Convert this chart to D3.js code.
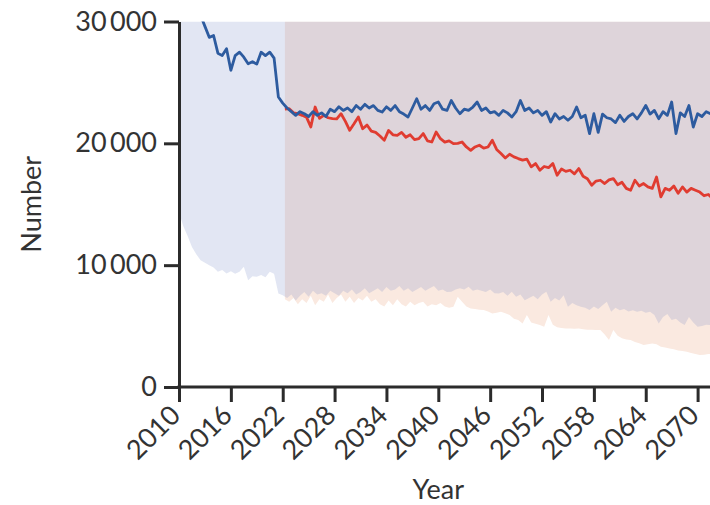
<!DOCTYPE html>
<html>
<head>
<meta charset="utf-8">
<script src="https://cdn.jsdelivr.net/npm/d3@7"></script>
<style>
  html, body { margin: 0; padding: 0; background: #fff; }
  svg { display: block; font-family: Lato, 'Open Sans', sans-serif; }
</style>
</head>
<body>
<div id="chart"></div>
<script>
// half-year steps
const step = 0.5
const blueStart = 2010
const projStart = 2022.25

const xTicks = [2010, 2016, 2022, 2028, 2034, 2040, 2046, 2052, 2058, 2064, 2070]
const yTicks = [0, 10000, 20000, 30000]

// blue line, 2010 -> 2071.5
const blueLine = [
  33500, 33000, 32500, 31800, 31200, 30500, 29600, 28700, 28850, 27400,
  27200, 27760, 26000, 27200, 27480, 27070, 26530, 26700, 26500, 27480,
  27200, 27480, 27000, 23800, 23300, 22900, 22600, 22300, 22600, 22430,
  22200, 22600, 22300, 22500, 22200, 22800, 22600, 23000, 22700, 22900,
  22600, 23110, 22800, 23200, 22900, 23100, 22700, 22570, 23000, 22700,
  23100, 22600, 22400, 22160, 22900, 23660, 22800, 23100, 22700, 23250,
  23390, 22800, 22700, 23520, 22900, 22430, 22800, 22700, 22980, 23390,
  22700, 22900, 22500, 22600, 22300, 22700, 22500, 22160, 22600, 23520,
  22700, 22900, 22500, 22700, 22300, 22600, 21750, 22430, 22000, 22200,
  21890, 22200, 22980, 22100, 22300, 20800, 22430, 20900, 22400, 22100,
  22000, 21700, 22300, 21800, 22200, 22430, 22000, 22500, 23110, 22400,
  22700, 22020, 22600, 22300, 23390, 20800, 22500, 22200, 23110, 21340,
  22430, 22200, 22600, 22430
]

// lower edge of blue band, 2010 -> 2071.5
const blueLower = [
  14340, 13200, 12400, 11500, 10900, 10400, 10200, 10000, 9800, 9450,
  9600, 9320, 9500, 9300, 9450, 9860, 8770, 9100, 9040, 9200,
  9000, 9450, 9300, 7680, 7540, 7300, 7600, 7100, 7500, 7800,
  7400, 7900, 7600, 7700, 7500, 7900, 7700, 7500, 7900, 7700,
  8000, 7600, 7800, 8100, 7700, 7900, 8100, 7800, 8200, 7900,
  8000, 8300, 7900, 8100, 7800, 8000, 8200, 7900, 8100, 8300,
  7900, 8000, 7800, 7810, 8000, 8100, 8000, 8220, 7900, 8000,
  7900, 7800, 8000, 7700, 7680, 7800, 7500, 7810, 7400, 7600,
  7130, 7300, 7500, 7200, 7600, 7810, 6990, 7300, 7100, 7540,
  6580, 6900, 6700, 6580, 6500, 6310, 6600, 6400, 6700, 6990,
  6170, 6500, 6300, 6400, 6200, 6300, 6170, 6250, 6100, 6170,
  5900, 5220, 5740, 6000, 5500, 5600, 5300, 5080, 5740, 5300,
  4940, 5000, 5100, 5080
]

// red line, 2022.25 -> 2071.75
const redLine = [
  22800, 22840, 22500, 22430, 22300, 22150, 21340, 22980, 22050, 22300,
  22100, 22020, 22000, 22430, 21800, 21070, 21600, 22160, 21200, 21500,
  21000, 20900, 20600, 20250, 21060, 20700, 20660, 20900, 20500, 20700,
  20300, 20380, 20800, 20200, 20110, 20930, 20380, 20100, 20200, 19970,
  20000, 20110, 19700, 19430, 19700, 19840, 19600, 19700, 20250, 19500,
  19160, 18800, 19100, 18890, 18750, 18620, 18700, 18070, 18340, 17790,
  18100, 18000, 18340, 17380, 17900, 17700, 17790, 17500, 17930, 17300,
  17100, 16560, 16900, 16970, 16700, 17000, 17110, 16600, 16800, 16300,
  16150, 16970, 16500, 16700, 16420, 16300, 17240, 15600, 16300, 16150,
  16500, 15900, 16420, 16000, 16300, 16150, 16000, 15700, 15800, 15460
]

// lower edge of orange band, 2022.25 -> 2071.75
const orangeLower = [
  7200, 7000, 7300, 6800, 7200, 6900, 7500, 6700, 7200, 7000,
  7600, 6900, 7300, 7600, 7000, 7400, 6900, 7300, 7100, 7500,
  7000, 7200, 6800, 6600, 7100, 6700, 7200, 6800, 6600, 7000,
  6700, 6900, 7000, 6600, 6800, 6700, 6900, 6600, 6500, 6580,
  7400, 6990, 6600, 6440, 6400, 6350, 6310, 6200, 6040, 6100,
  6170, 6050, 5900, 5600, 5500, 5220, 5900, 5300, 5200, 5080,
  4940, 5900, 5100, 4900, 4850, 4810, 4800, 4780, 4800, 4750,
  4700, 4690, 4680, 4670, 4300, 3850, 4670, 4200, 4000, 3900,
  3850, 3700, 3600, 3440, 3500, 3580, 3500, 3300, 3250, 3170,
  3100, 3000, 2950, 2890, 2800, 2700, 2620, 2650, 2700, 2750
]

const width = 710
const height = 505
const margin = { top: 21.5, left: 179, bottom: 118 }
const plotRight = 697.6 // where 2070 sits, the plot runs on to the edge
const fontSize = 27

const x = d3.scaleLinear().domain([2010, 2070]).range([margin.left, plotRight])
const y = d3.scaleLinear().domain([0, 30000]).range([height - margin.bottom, margin.top])

const fmt = d3.formatLocale({ decimal: '.', thousands: '\u2009', grouping: [3], currency: ['', ''] }).format(',d')

const toPoints = (arr, start) => arr.map((v, i) => ({ year: start + i * step, v }))

const blueLinePts = toPoints(blueLine, blueStart)
const blueBandPts = toPoints(blueLower, blueStart)
const redLinePts = toPoints(redLine, projStart)
const orangeBandPts = toPoints(orangeLower, projStart)

const svg = d3.select('#chart').append('svg')
  .attr('width', width)
  .attr('height', height)

svg.append('clipPath').attr('id', 'plot-clip')
  .append('rect')
  .attr('x', margin.left)
  .attr('y', margin.top)
  .attr('width', width - margin.left)
  .attr('height', y(0) - margin.top)

const plot = svg.append('g').attr('clip-path', 'url(#plot-clip)')

const band = d3.area()
  .x(d => x(d.year))
  .y0(y(30000))
  .y1(d => y(d.v))

plot.append('path')
  .datum(orangeBandPts)
  .attr('fill', '#fae9e0')
  .attr('d', band)

plot.append('path')
  .datum(blueBandPts)
  .attr('fill', 'rgb(110,130,195)')
  .attr('fill-opacity', 0.2)
  .attr('d', band)

const line = d3.line().x(d => x(d.year)).y(d => y(d.v))

plot.append('path')
  .datum(redLinePts)
  .attr('fill', 'none')
  .attr('stroke', '#e03c31')
  .attr('stroke-width', 2.8)
  .attr('stroke-linejoin', 'round')
  .attr('d', line)

plot.append('path')
  .datum(blueLinePts)
  .attr('fill', 'none')
  .attr('stroke', '#2d5b9f')
  .attr('stroke-width', 2.8)
  .attr('stroke-linejoin', 'round')
  .attr('d', line)

// axes
const axisColor = '#2b2b2b'
const textColor = '#333'

const yAxis = svg.append('g')
  .attr('transform', 'translate(' + margin.left + ',0)')
  .call(d3.axisLeft(y).tickValues(yTicks).tickFormat(fmt).tickSize(15).tickSizeOuter(0).tickPadding(7))

yAxis.selectAll('.tick text')
  .attr('fill', textColor)
  .style('font-size', fontSize + 'px')
  .style('font-family', 'Lato, sans-serif')

const xAxis = svg.append('g')
  .attr('transform', 'translate(0,' + y(0) + ')')
  .call(d3.axisBottom(x).tickValues(xTicks).tickFormat('').tickSize(15).tickSizeOuter(0))

xAxis.select('.domain').remove()
xAxis.selectAll('.tick text').remove()
xAxis.append('line')
  .attr('x1', margin.left - 1.5)
  .attr('x2', width)
  .attr('stroke', axisColor)
  .attr('stroke-width', 3)

svg.selectAll('.domain, .tick line')
  .attr('stroke', axisColor)
  .attr('stroke-width', 3)

// rotated year labels
svg.append('g')
  .selectAll('text')
  .data(xTicks)
  .join('text')
  .attr('transform', d => 'translate(' + (x(d) + 3) + ',' + (y(0) + 30) + ') rotate(-45)')
  .attr('text-anchor', 'end')
  .attr('fill', textColor)
  .style('font-size', fontSize + 'px')
  .text(d => d)

svg.append('text')
  .attr('transform', 'translate(41,' + (y(15000)) + ') rotate(-90)')
  .attr('text-anchor', 'middle')
  .attr('fill', textColor)
  .style('font-size', fontSize + 'px')
  .text('Number')

svg.append('text')
  .attr('x', x(2040))
  .attr('y', 499)
  .attr('text-anchor', 'middle')
  .attr('fill', textColor)
  .style('font-size', fontSize + 'px')
  .text('Year')
</script>
</body>
</html>
